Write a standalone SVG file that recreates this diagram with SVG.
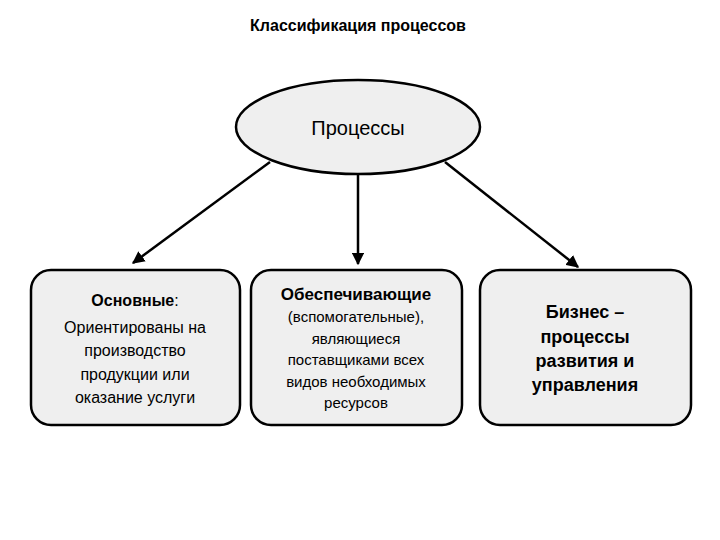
<svg xmlns="http://www.w3.org/2000/svg" width="720" height="540" viewBox="0 0 720 540">
<style>
.n{fill:#efefef;stroke:#000;stroke-width:2.5}
.t{font-family:"Liberation Sans",Arial,sans-serif;text-anchor:middle;fill:#000}
.c line{stroke:#000;stroke-width:2.5;marker-end:url(#a)}
</style>
<defs><marker id="a" viewBox="0 0 10 10" refX="9" refY="5" markerWidth="5" markerHeight="5" orient="auto"><path d="M0,0L10,5L0,10z"/></marker></defs>
<rect width="720" height="540" fill="#fff"/>
<text class="t" x="358" y="31" font-size="16" font-weight="bold">Классификация процессов</text>
<g class="c">
<line x1="270" y1="162" x2="133" y2="263"/>
<line x1="358" y1="175" x2="358" y2="264"/>
<line x1="445" y1="162" x2="578" y2="267"/>
</g>
<g id="root"><ellipse class="n" cx="358" cy="127" rx="122" ry="47"/>
<text class="t" x="358" y="135" font-size="20">Процессы</text></g>
<g id="n1"><rect class="n" x="31" y="270" width="209" height="155" rx="20"/>
<text class="t" font-size="16"><tspan x="135" y="306"><tspan font-weight="bold">Основные</tspan>:</tspan><tspan x="135" y="333">Ориентированы на</tspan><tspan x="135" y="356">производство</tspan><tspan x="135" y="380">продукции или</tspan><tspan x="135" y="403">оказание услуги</tspan></text></g>
<g id="n2"><rect class="n" x="251" y="270" width="211" height="155" rx="20"/>
<text class="t"><tspan x="356" y="300" font-weight="bold" font-size="17">Обеспечивающие</tspan></text>
<text class="t" font-size="15"><tspan x="356" y="322">(вспомогательные),</tspan><tspan x="356" y="344">являющиеся</tspan><tspan x="356" y="365">поставщиками всех</tspan><tspan x="356" y="387">видов необходимых</tspan><tspan x="356" y="408">ресурсов</tspan></text></g>
<g id="n3"><rect class="n" x="480" y="270" width="211" height="155" rx="20"/>
<text class="t" font-size="18" font-weight="bold"><tspan x="585" y="318">Бизнес –</tspan><tspan x="585" y="343">процессы</tspan><tspan x="585" y="367">развития и</tspan><tspan x="585" y="391">управления</tspan></text></g>
</svg>
